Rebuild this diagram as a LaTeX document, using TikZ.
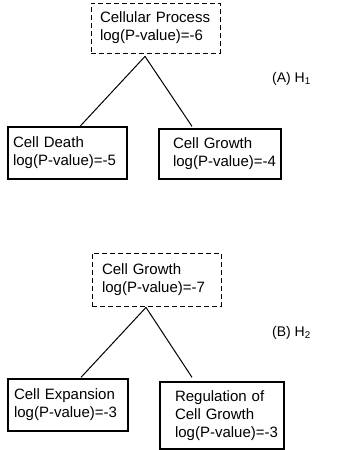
\documentclass[tikz,border=0pt]{standalone}
\usepackage{fontspec}
\setmainfont{Liberation Sans}
\usetikzlibrary{positioning}

\tikzset{
  termbox/.style={draw, line width=1.3pt, align=left, inner ysep=0pt,
    font=\fontsize{15}{18}\selectfont,
    execute at begin node={\exhyphenpenalty=10000\hyphenpenalty=10000\relax}},
  rootbox/.style={termbox, line width=0.8pt, dash pattern=on 5pt off 3pt},
  link/.style={line width=1pt},
  treelabel/.style={anchor=west, inner sep=0pt, font=\fontsize{14}{14}\selectfont},
}

\begin{document}
\begin{tikzpicture}[x=1pt,y=-1pt]
\useasboundingbox (0,0) rectangle (341,450);

\node[rootbox, minimum width=129, minimum height=50, inner xsep=9, text width=111] (procA) at (155.5,28) {Cellular Process\\log(P-value)=-6};
\node[termbox, minimum width=119, minimum height=52, inner xsep=5, text width=109] (deathA) at (67.5,153) {Cell Death\\log(P-value)=-5};
\node[termbox, minimum width=122, minimum height=50, inner xsep=14, text width=94] (growthA) at (220,154) {Cell Growth\\log(P-value)=-4};
\draw[link] ([xshift=-10.5pt,yshift=-3pt]procA.south) -- ([xshift=12.5pt]deathA.north);
\draw[link] ([xshift=-10.5pt,yshift=-3pt]procA.south) -- ([xshift=-28pt,yshift=2pt]growthA.north);
\node[treelabel] (labA) at (272,79) {(A) H\textsubscript{1}};

\node[rootbox, minimum width=129, minimum height=53, inner xsep=10, text width=109] (growthB) at (156.5,279.5) {Cell Growth\\log(P-value)=-7};
\node[termbox, minimum width=120, minimum height=52, inner xsep=6, text width=108] (expandB) at (68,405) {Cell Expansion\\log(P-value)=-3};
\node[termbox, minimum width=124, minimum height=67, inner xsep=15, text width=94] (regB) at (222,415.5) {Regulation of\\Cell Growth\\log(P-value)=-3};
\draw[link] ([xshift=-10.5pt,yshift=-1pt]growthB.south) -- ([xshift=13pt,yshift=1pt]expandB.north);
\draw[link] ([xshift=-10.5pt,yshift=-1pt]growthB.south) -- ([xshift=-30pt,yshift=4pt]regB.north);
\node[treelabel] (labB) at (272,333) {(B) H\textsubscript{2}};
\end{tikzpicture}
\end{document}
